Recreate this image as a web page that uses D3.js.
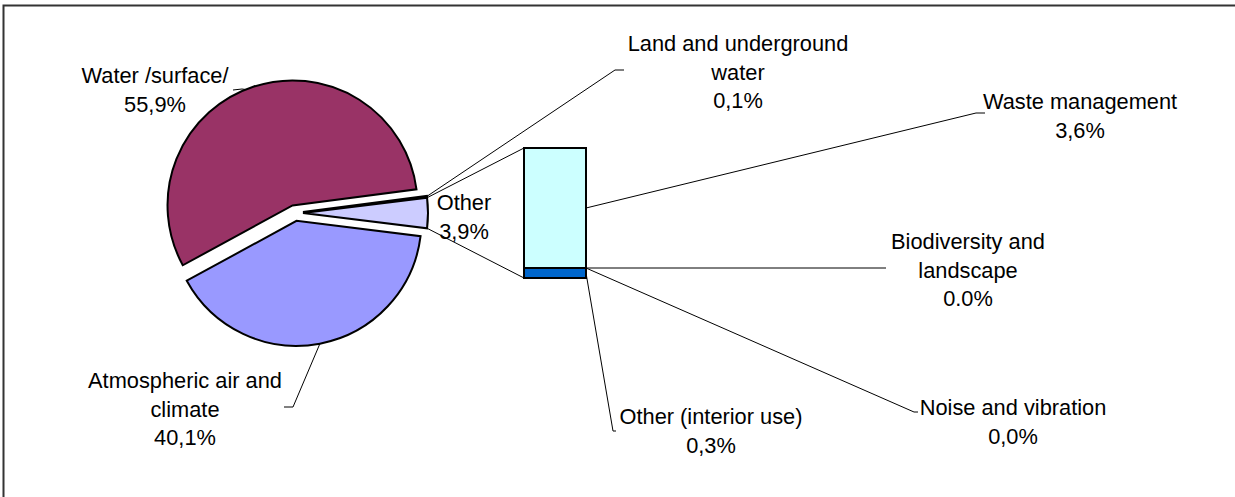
<!DOCTYPE html>
<html>
<head>
<meta charset="utf-8">
<script src="https://cdn.jsdelivr.net/npm/d3@7"></script>
<style>
  html, body { margin: 0; padding: 0; background: #fff; overflow: hidden; }
  svg { display: block; }
  text { font-family: "Liberation Sans", Arial, sans-serif; font-size: 21.8px; fill: #000; }
</style>
</head>
<body>
<svg id="chart" width="1235" height="497"></svg>
<script>
// Pie: main categories, clockwise order starting just below 3 o'clock
const pieNames  = ["Atmospheric air and climate", "Water /surface/", "Land and underground water", "Other"];
const pieValues = [40.1, 55.9, 0.1, 3.9];
const pieText   = ["40,1%", "55,9%", "0,1%", "3,9%"];
const pieColors = ["#9999FF", "#993366", "#FFFFCC", "#CCCCFF"];

// Bar: breakdown of "Other", stacked from the bottom
const barNames  = ["Other (interior use)", "Biodiversity and landscape", "Noise and vibration", "Waste management"];
const barValues = [0.3, 0.0, 0.0, 3.6];
const barText   = ["0,3%", "0.0%", "0,0%", "3,6%"];
const barColors = ["#0066CC", "#660066", "#FF8080", "#CCFFFF"];

const svg = d3.select("#chart");

// frame: top and left edges of the chart area
svg.append("path")
  .attr("d", "M3.5,497V5.5H1235")
  .attr("fill", "none").attr("stroke", "#333").attr("stroke-width", 2);

// ---- pie ----
const cx = 295, cy = 213, R = 125, explode = 8;
const otherShare = pieValues[3] / d3.sum(pieValues);
const start = Math.PI / 2 + otherShare * Math.PI;   // "Other" centred on 3 o'clock
const pie = d3.pie().sort(null).startAngle(start).endAngle(start + 2 * Math.PI);
const arcs = pie(pieValues);
const arc = d3.arc().innerRadius(0).outerRadius(R);

const offset = a => {
  const m = (a.startAngle + a.endAngle) / 2;
  return [explode * Math.sin(m), -explode * Math.cos(m)];
};
const pt = (a, ang, r) => {
  const [ox, oy] = offset(a);
  return [cx + ox + r * Math.sin(ang), cy + oy - r * Math.cos(ang)];
};

const pg = svg.append("g");
pg.selectAll("path").data(arcs).join("path")
  .attr("transform", d => { const [ox, oy] = offset(d); return `translate(${cx + ox},${cy + oy})`; })
  .attr("d", arc)
  .attr("fill", (d, i) => pieColors[i])
  .attr("stroke", "#000").attr("stroke-width", 2).attr("stroke-linejoin", "miter");

// ---- bar of "Other" ----
const barTotal = d3.sum(barValues);
const x = d3.scaleBand().domain(["other"]).range([524, 586]).padding(0);
const y = d3.scaleLinear().domain([0, barTotal]).range([278, 148]);
const stack = [];
let acc = 0;
barValues.forEach((v, i) => { stack.push({ i, y0: acc, y1: acc + v }); acc += v; });

svg.append("g").selectAll("rect").data(stack.filter(s => s.y1 > s.y0)).join("rect")
  .attr("x", x("other")).attr("width", x.bandwidth())
  .attr("y", d => y(d.y1)).attr("height", d => y(d.y0) - y(d.y1))
  .attr("fill", d => barColors[d.i])
  .attr("stroke", "#000").attr("stroke-width", 2);

// connector lines from the "Other" slice to the bar
const otherArc = arcs[3];
const lg = svg.append("g").attr("stroke", "#000").attr("stroke-width", 1).attr("fill", "none");
const line = d3.line();
lg.append("path").attr("d", line([pt(otherArc, otherArc.startAngle, R), [x("other"), y(barTotal)]]));
lg.append("path").attr("d", line([pt(otherArc, otherArc.endAngle, R), [x("other"), y(0)]]));

// ---- labels with leader lines ----
function label(lines, tx, ty0, lead) {
  const t = svg.append("text").attr("text-anchor", "middle");
  lines.forEach((s, k) => t.append("tspan").attr("x", tx).attr("y", ty0 + k * 28.5).text(s));
  if (lead) lg.append("path").attr("d", line(lead));
}
const mid = a => (a.startAngle + a.endAngle) / 2;
const barRight = x("other") + x.bandwidth();

// pie labels
label(["Water /surface/", pieText[1]], 155, 83,
  [[233, 90], [242, 89], pt(arcs[1], mid(arcs[1]) - 0.07, R)]);
label(["Atmospheric air and", "climate", pieText[0]], 185, 388,
  [[284, 407], [293, 407], pt(arcs[0], mid(arcs[0]), R)]);
label(["Land and underground", "water", pieText[2]], 738, 51,
  [[624, 70], [615, 70], pt(arcs[2], mid(arcs[2]), R)]);
label(["Other", pieText[3]], 464, 210, null);

// bar labels
const segMid = i => y((stack[i].y0 + stack[i].y1) / 2);
label(["Waste management", barText[3]], 1080, 109,
  [[985, 113], [976, 113], [barRight, segMid(3)]]);
label(["Biodiversity and", "landscape", barText[1]], 968, 249,
  [[886, segMid(1)], [barRight, segMid(1)]]);
label(["Noise and vibration", barText[2]], 1013, 415,
  [[918, 412], [914, 412], [barRight, segMid(2)]]);
label(["Other (interior use)", barText[0]], 711, 424,
  [[616, 431], [613, 431], [barRight, segMid(0)]]);
</script>
</body>
</html>
